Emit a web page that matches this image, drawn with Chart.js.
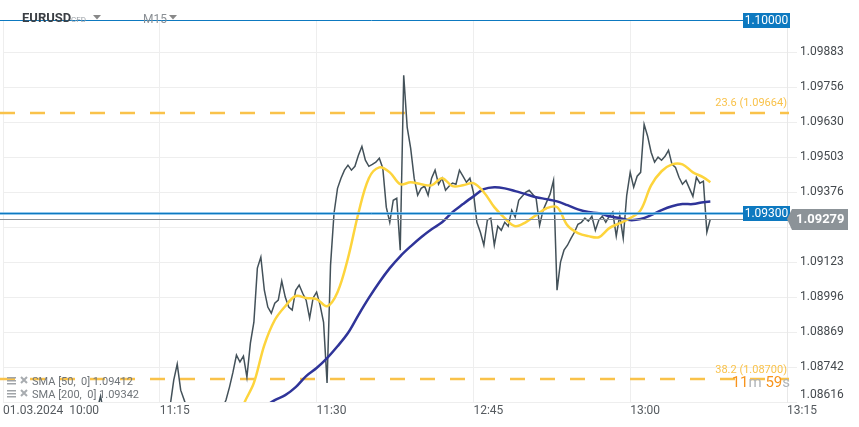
<!DOCTYPE html>
<html>
<head>
<meta charset="utf-8">
<script src="https://cdn.jsdelivr.net/npm/chart.js@4.4.1/dist/chart.umd.min.js"></script>
<style>
  html, body { margin: 0; padding: 0; background: #fff; }
  #wrap { width: 859px; height: 427px; position: relative; }
</style>
</head>
<body>
<div id="wrap"><canvas id="chart" width="859" height="427"></canvas></div>
<script>
// ---- data ----
const symbol = 'EURUSD';
const symbolType = 'CFD';
const timeframe = 'M15';
const xTickLabels = ['01.03.2024  10:00', '11:15', '11:30', '12:45', '13:00', '13:15'];
const xTickStep = 15; // minutes between labels on the (session) axis
const yTickValues = [1.08616, 1.08742, 1.08869, 1.08996, 1.09123, 1.09249, 1.09376, 1.09503, 1.09630, 1.09756, 1.09883];
const yMin = 1.08616;
const yMax = 1.10000;

// price, one value every 20 s starting 9 min after the first label
const priceStart = 9;
const priceStep = 1 / 3;
const priceValues = [
  1.08587, 1.08637, 1.08569, 1.08551, 1.08558, 1.08533, 1.08551, 1.08522, 1.08533,
  1.08551, 1.08533, 1.08558, 1.08543, 1.08522, 1.08551, 1.08569, 1.08551, 1.08558,
  1.08580, 1.08558, 1.08587, 1.08605, 1.08695, 1.08753, 1.08659, 1.08623, 1.08587,
  1.08569, 1.08551, 1.08558, 1.08533, 1.08551, 1.08558, 1.08569, 1.08551, 1.08580,
  1.08594, 1.08623, 1.08670, 1.08724, 1.08786, 1.08761, 1.08782, 1.08706, 1.08829,
  1.08905, 1.09101, 1.09141, 1.09021, 1.08960, 1.08938, 1.08974, 1.08985, 1.09054,
  1.08996, 1.08960, 1.08949, 1.09021, 1.09040, 1.09010, 1.08985, 1.08920, 1.08993,
  1.09014, 1.08967, 1.08905, 1.08685, 1.09112, 1.09300, 1.09390, 1.09427, 1.09456,
  1.09474, 1.09456, 1.09470, 1.09510, 1.09542, 1.09492, 1.09470, 1.09477, 1.09485,
  1.09499, 1.09463, 1.09322, 1.09267, 1.09347, 1.09354, 1.09166, 1.09800, 1.09611,
  1.09535, 1.09427, 1.09365, 1.09390, 1.09398, 1.09365, 1.09427, 1.09456, 1.09405,
  1.09427, 1.09383, 1.09398, 1.09409, 1.09405, 1.09456, 1.09434, 1.09412, 1.09427,
  1.09376, 1.09267, 1.09231, 1.09184, 1.09275, 1.09282, 1.09184, 1.09253, 1.09238,
  1.09267, 1.09253, 1.09311, 1.09286, 1.09347, 1.09361, 1.09376, 1.09383, 1.09369,
  1.09354, 1.09256, 1.09311, 1.09340, 1.09369, 1.09419, 1.09021, 1.09123, 1.09166,
  1.09184, 1.09209, 1.09231, 1.09260, 1.09267, 1.09282, 1.09271, 1.09289, 1.09238,
  1.09275, 1.09289, 1.09267, 1.09289, 1.09304, 1.09217, 1.09293, 1.09209, 1.09365,
  1.09448, 1.09394, 1.09434, 1.09448, 1.09622, 1.09579, 1.09521, 1.09485, 1.09503,
  1.09492, 1.09506, 1.09528, 1.09477, 1.09466, 1.09430, 1.09405, 1.09419, 1.09390,
  1.09361, 1.09430, 1.09409, 1.09416, 1.09231, 1.09279
];

// moving averages, one value per minute
const sma50Start = 22;
const sma50Values = [
  1.08478, 1.08605, 1.08685, 1.08822, 1.08913, 1.08963, 1.09000, 1.08993, 1.08989, 1.08963,
  1.09014, 1.09137, 1.09300, 1.09427, 1.09466, 1.09448, 1.09405, 1.09412, 1.09405, 1.09401,
  1.09427, 1.09398, 1.09401, 1.09409, 1.09376, 1.09322, 1.09282, 1.09253, 1.09267, 1.09293,
  1.09318, 1.09322, 1.09256, 1.09228, 1.09217, 1.09213, 1.09246, 1.09264, 1.09282, 1.09311,
  1.09401, 1.09452, 1.09477, 1.09477, 1.09448, 1.09430
];
const sma50Last = 1.09412;
const sma200Start = 25;
const sma200Values = [
  1.08598, 1.08623, 1.08641, 1.08670, 1.08710, 1.08739, 1.08775, 1.08818, 1.08866, 1.08931,
  1.08993, 1.09050, 1.09101, 1.09144, 1.09180, 1.09213, 1.09242, 1.09267, 1.09304, 1.09333,
  1.09361, 1.09387, 1.09394, 1.09390, 1.09380, 1.09369, 1.09358, 1.09351, 1.09343, 1.09329,
  1.09314, 1.09304, 1.09300, 1.09289, 1.09282, 1.09275, 1.09279, 1.09293, 1.09311, 1.09325,
  1.09333, 1.09333, 1.09340
];
const sma200Last = 1.09342;

const fibLevels = [['23.6', 1.09664], ['38.2', 1.08700]];
const targetLevel = 1.10000;
const alertLevel = 1.09300;
const lastPrice = 1.09279;
const countdown = [['11', '#f7941d'], ['m', '#b0b4b8'], [' 59', '#f7941d'], ['s', '#b0b4b8']];

// ---- build points ----
const toPoints = (start, step, vals) => vals.map((v, i) => ({ x: start + i * step, y: v }));
const pricePoints = toPoints(priceStart, priceStep, priceValues);
const lastX = pricePoints[pricePoints.length - 1].x;
const sma50Points = toPoints(sma50Start, 1, sma50Values).concat([{ x: lastX, y: sma50Last }]);
const sma200Points = toPoints(sma200Start, 1, sma200Values).concat([{ x: lastX, y: sma200Last }]);

const FONT = 'Roboto, "Noto Sans", sans-serif';
const fibColor = '#f9c24a';
const blue = '#0d79c0';

function tri(ctx, x, y) {
  ctx.beginPath();
  ctx.moveTo(x, y); ctx.lineTo(x + 8, y); ctx.lineTo(x + 4, y + 4.5); ctx.closePath();
  ctx.fill();
}

const overlay = {
  id: 'overlay',
  beforeDatasetsDraw(chart) {
    const { ctx, chartArea: a, scales: { y } } = chart;
    ctx.save();
    ctx.setLineDash([15, 15]);
    ctx.lineWidth = 2.5;
    ctx.strokeStyle = fibColor;
    fibLevels.forEach(([, v]) => {
      const py = Math.round(y.getPixelForValue(v));
      ctx.beginPath(); ctx.moveTo(0, py); ctx.lineTo(a.right + 2, py); ctx.stroke();
    });
    ctx.restore();
  },
  afterDatasetsDraw(chart) {
    const { ctx, chartArea: a, scales: { y } } = chart;
    ctx.save();
    // alert line (light + dark)
    let py = Math.round(y.getPixelForValue(alertLevel)) + 0.5;
    ctx.strokeStyle = 'rgba(120,185,230,0.8)'; ctx.lineWidth = 3;
    ctx.beginPath(); ctx.moveTo(0, py); ctx.lineTo(a.right - 44, py); ctx.stroke();
    ctx.strokeStyle = blue; ctx.lineWidth = 1;
    ctx.beginPath(); ctx.moveTo(0, py); ctx.lineTo(a.right - 44, py); ctx.stroke();
    // last price line
    py = Math.round(y.getPixelForValue(lastPrice)) + 0.5;
    ctx.strokeStyle = '#8a9197'; ctx.lineWidth = 1.2;
    ctx.beginPath(); ctx.moveTo(0, py); ctx.lineTo(a.right + 3, py); ctx.stroke();
    // target line
    py = Math.round(y.getPixelForValue(targetLevel)) + 0.5;
    ctx.strokeStyle = blue; ctx.lineWidth = 1;
    ctx.beginPath(); ctx.moveTo(0, py); ctx.lineTo(a.right - 44, py); ctx.stroke();
    ctx.restore();
  },
  afterDraw(chart) {
    const { ctx, chartArea: a, scales: { y } } = chart;
    ctx.save();
    ctx.textBaseline = 'middle';

    // blue value boxes
    [targetLevel, alertLevel].forEach(v => {
      const py = Math.round(y.getPixelForValue(v));
      ctx.fillStyle = blue;
      ctx.fillRect(a.right - 44, py - 7, 47, 15);
      ctx.fillStyle = '#fff';
      ctx.font = '12px ' + FONT;
      ctx.textAlign = 'center';
      ctx.fillText(v.toFixed(5), a.right - 20.5, py + 0.5);
    });

    // last price tag
    const ly = Math.round(y.getPixelForValue(lastPrice));
    const tx = a.right + 5;
    ctx.fillStyle = '#8c9398';
    ctx.beginPath();
    ctx.moveTo(tx - 5, ly);
    ctx.lineTo(tx, ly - 10);
    ctx.lineTo(tx + 56, ly - 10);
    ctx.lineTo(tx + 56, ly + 11);
    ctx.lineTo(tx, ly + 11);
    ctx.closePath();
    ctx.fill();
    ctx.fillStyle = '#fff';
    ctx.font = 'bold 13px ' + FONT;
    ctx.textAlign = 'left';
    ctx.fillText(lastPrice.toFixed(5), tx + 4, ly + 1);

    // fib labels
    ctx.font = '11px ' + FONT;
    ctx.fillStyle = fibColor;
    ctx.textAlign = 'right';
    fibLevels.forEach(([name, v]) => {
      const py = y.getPixelForValue(v);
      ctx.fillText(name + ' (' + v.toFixed(5) + ')', a.right, py - 9);
    });

    // countdown
    ctx.font = '15px ' + FONT;
    const fy = y.getPixelForValue(fibLevels[1][1]) + 4;
    let cx = a.right + 3;
    for (let i = countdown.length - 1; i >= 0; i--) {
      const [t, c] = countdown[i];
      ctx.fillStyle = c;
      ctx.fillText(t, cx, fy);
      cx -= ctx.measureText(t).width;
    }

    // symbol header
    ctx.textAlign = 'left';
    ctx.textBaseline = 'alphabetic';
    ctx.fillStyle = '#3b3f44';
    ctx.font = 'bold 13px ' + FONT;
    ctx.fillText(symbol, 22, 22);
    ctx.fillStyle = '#9aa0a6';
    ctx.font = '8px ' + FONT;
    ctx.fillText(symbolType, 71, 22);
    ctx.fillStyle = '#888';
    tri(ctx, 93, 15);
    ctx.font = '12px ' + FONT;
    ctx.fillStyle = '#8a8f94';
    ctx.fillText(timeframe, 143, 23);
    ctx.fillStyle = '#888';
    tri(ctx, 169, 15);

    // indicator legend
    const rows = [['SMA [50,  0]', sma50Last, 381], ['SMA [200,  0]', sma200Last, 394]];
    ctx.textBaseline = 'middle';
    rows.forEach(([name, v, ry]) => {
      ctx.fillStyle = '#a0a4a8';
      ctx.fillRect(7, ry - 4, 9, 1.5);
      ctx.fillRect(7, ry - 1, 9, 1.5);
      ctx.fillRect(7, ry + 2, 9, 1.5);
      ctx.strokeStyle = '#a8acb0'; ctx.lineWidth = 2;
      ctx.beginPath();
      ctx.moveTo(21, ry - 4); ctx.lineTo(27, ry + 2);
      ctx.moveTo(27, ry - 4); ctx.lineTo(21, ry + 2);
      ctx.stroke();
      ctx.fillStyle = '#6f7479';
      ctx.font = '11px ' + FONT;
      ctx.fillText(name + ' ' + v.toFixed(5), 32, ry + 1);
    });
    ctx.restore();
  }
};

const chart = new Chart(document.getElementById('chart'), {
  type: 'line',
  data: {
    datasets: [
      { data: sma50Points, borderColor: '#fdd43c', borderWidth: 2.5, pointRadius: 0, tension: 0.35 },
      { data: sma200Points, borderColor: '#2f3499', borderWidth: 2.5, pointRadius: 0, tension: 0.35 },
      { data: pricePoints, borderColor: '#435159', borderWidth: 1.5, pointRadius: 0, tension: 0 }
    ]
  },
  options: {
    responsive: false,
    animation: false,
    layout: { padding: { top: 20, left: 3, right: 0, bottom: 0 } },
    plugins: { legend: { display: false }, tooltip: { enabled: false } },
    scales: {
      x: {
        type: 'linear',
        min: 0,
        max: (xTickLabels.length - 1) * xTickStep,
        afterBuildTicks: s => { s.ticks = xTickLabels.map((_, i) => ({ value: i * xTickStep })); },
        afterFit: s => { s.height = 25; },
        ticks: {
          align: 'start', padding: 2, maxRotation: 0, autoSkip: false,
          color: '#555a5f', font: { family: FONT, size: 12 },
          callback: (v, i) => xTickLabels[i]
        },
        grid: { color: '#eeeeee', drawTicks: false },
        border: { display: false }
      },
      y: {
        position: 'right',
        min: yMin,
        max: yMax,
        afterBuildTicks: s => { s.ticks = yTickValues.map(v => ({ value: v })); },
        afterFit: s => { s.width = 72; },
        ticks: {
          padding: 3, color: '#44494e', font: { family: FONT, size: 12 },
          callback: (v, i) => i === 0 ? [v.toFixed(5), ''] : v.toFixed(5)
        },
        grid: { color: '#eeeeee', tickLength: 10 },
        border: { color: '#e8e8e8' }
      }
    }
  },
  plugins: [overlay]
});
</script>
</body>
</html>
